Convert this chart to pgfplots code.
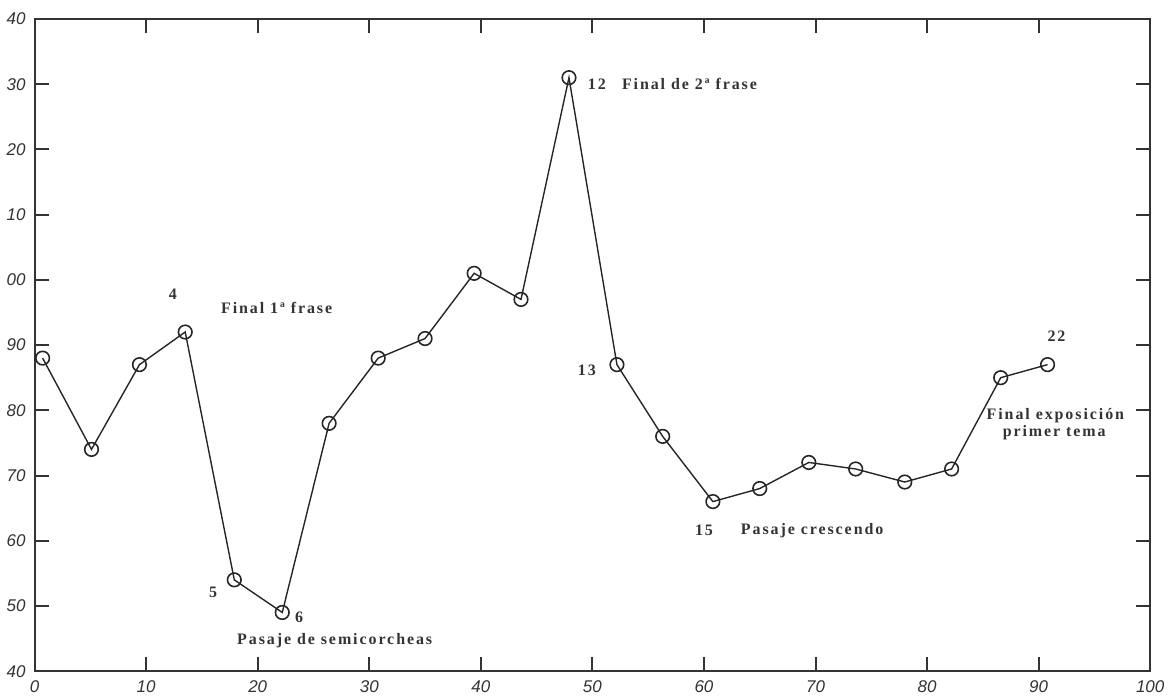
\documentclass[border=0pt]{standalone}
\usepackage{pgfplots}
\pgfplotsset{compat=1.18}
\usepackage{fontspec}
\setmainfont{Liberation Serif}
\newfontfamily\tickfont{Liberation Sans}
\newfontfamily\annfont[LetterSpace=12]{Liberation Serif}
\begin{document}
\begin{tikzpicture}
\begin{axis}[
  scale only axis,
  width=558.5pt, height=326.5pt,
  xmin=0, xmax=100, ymin=40, ymax=140,
  xtick={0,10,...,100},
  ytick={40,50,...,140},
  yticklabels={40,50,60,70,80,90,00,10,20,30,40},
  tick align=inside,
  major tick length=7pt,
  axis line style={line width=1pt, black!80},
  every tick/.style={line width=1pt, black!80},
  ticklabel style={font=\tickfont\itshape\fontsize{8.5}{10}\selectfont, text=black!80},
  /pgf/number format/assume math mode=true,
  xticklabel style={yshift=-1pt},
  yticklabel style={xshift=-1pt},
  clip=false,
]
\addplot[black!85, line width=0.7pt, mark=o, mark size=3.4pt, mark options={line width=0.8pt}] coordinates {
(0.72,88) (5.1,74) (9.4,87) (13.5,92) (17.9,54) (22.2,49) (26.4,78) (30.8,88)
(35.0,91) (39.4,101) (43.6,97) (47.9,131) (52.2,87) (56.3,76) (60.8,66) (65.0,68)
(69.4,72) (73.6,71) (78.0,69) (82.2,71) (86.6,85) (90.8,87)
};
\begin{scope}[every node/.style={font=\annfont\bfseries\fontsize{8}{9.5}\selectfont, text=black!80}]
\node at (axis cs:12.4,97.8) {4};
\node at (axis cs:21.7,95.7) {Final 1ª frase};
\node at (axis cs:16.0,52.1) {5};
\node at (axis cs:23.7,48.3) {6};
\node at (axis cs:26.9,44.7) {Pasaje de semicorcheas};
\node at (axis cs:50.4,130.0) {12};
\node at (axis cs:58.7,130.0) {Final de 2ª frase};
\node at (axis cs:49.5,86.1) {13};
\node at (axis cs:60.0,61.6) {15};
\node at (axis cs:69.7,61.6) {Pasaje crescendo};
\node at (axis cs:91.6,91.3) {22};
\node at (axis cs:91.5,79.2) {Final exposición};
\node at (axis cs:91.4,76.6) {primer tema};
\end{scope}
\end{axis}
\path (current axis.north) ++(0,9.5pt) coordinate (topmargin);
\end{tikzpicture}
\end{document}
